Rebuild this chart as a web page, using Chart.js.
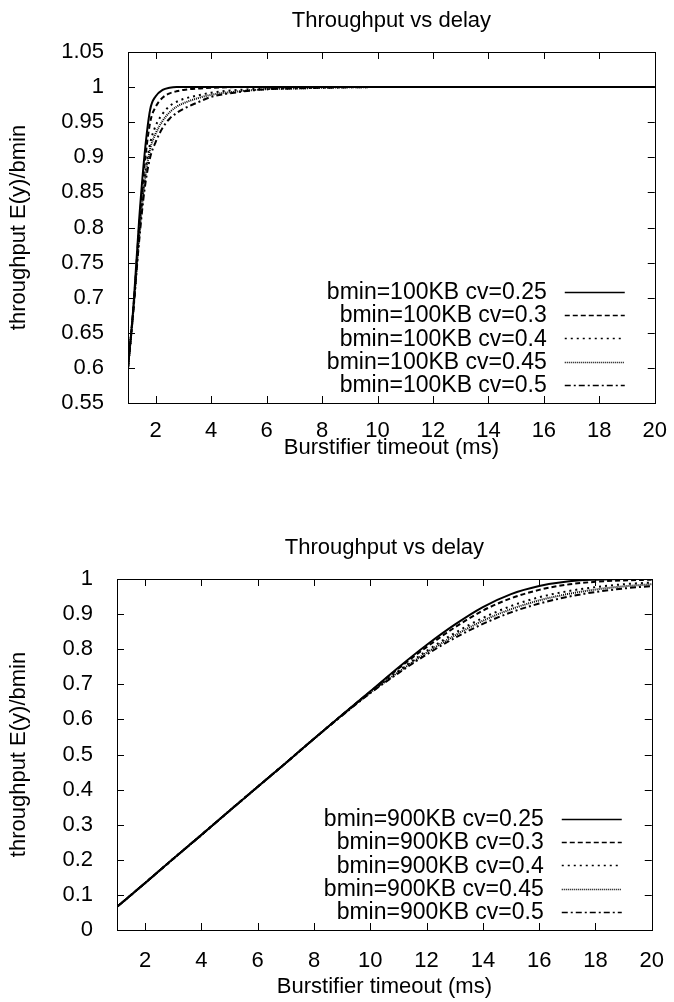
<!DOCTYPE html>
<html>
<head>
<meta charset="utf-8">
<script src="https://cdn.jsdelivr.net/npm/chart.js@4"></script>
<style>
  body { margin: 0; background: #fff; }
  .box { position: absolute; left: 0; width: 674px; height: 475px; }
  #boxTop { top: 0; }
  #boxBottom { top: 527px; }
</style>
</head>
<body>
<div class="box" id="boxTop"><canvas id="chartTop" width="674" height="475"></canvas></div>
<div class="box" id="boxBottom"><canvas id="chartBottom" width="674" height="475"></canvas></div>
<script>
// Données
const titleText = 'Throughput vs delay';
const xTitle = 'Burstifier timeout (ms)';
const yTitle = 'throughput E(y)/bmin';
const cvLabels = ['cv=0.25', 'cv=0.3', 'cv=0.4', 'cv=0.45', 'cv=0.5'];

const xTicks = [2, 4, 6, 8, 10, 12, 14, 16, 18, 20];
const yTicksTop = [0.55, 0.6, 0.65, 0.7, 0.75, 0.8, 0.85, 0.9, 0.95, 1, 1.05];
const yTicksBottom = [0, 0.1, 0.2, 0.3, 0.4, 0.5, 0.6, 0.7, 0.8, 0.9, 1];

// bmin = 100KB
const topX = [1, 1.2, 1.4, 1.6, 1.8, 2, 2.25, 2.5, 2.75, 3, 3.5, 4, 5, 6, 7, 8, 10, 12, 14, 16, 18, 20];
const top025 = [0.6, 0.69, 0.81, 0.905, 0.968, 0.987, 0.996, 0.999, 1, 1, 1, 1, 1, 1, 1, 1, 1, 1, 1, 1, 1, 1];
const top03 = [0.6, 0.688, 0.80, 0.89, 0.95, 0.972, 0.985, 0.991, 0.994, 0.996, 0.998, 0.999, 1, 1, 1, 1, 1, 1, 1, 1, 1, 1];
const top04 = [0.6, 0.686, 0.79, 0.872, 0.92, 0.945, 0.962, 0.973, 0.979, 0.983, 0.988, 0.992, 0.996, 0.998, 0.999, 1, 1, 1, 1, 1, 1, 1];
const top045 = [0.6, 0.685, 0.785, 0.865, 0.912, 0.934, 0.952, 0.964, 0.972, 0.977, 0.984, 0.989, 0.994, 0.997, 0.998, 0.999, 1, 1, 1, 1, 1, 1];
const top05 = [0.6, 0.684, 0.78, 0.855, 0.9, 0.922, 0.942, 0.955, 0.963, 0.969, 0.978, 0.986, 0.993, 0.997, 0.998, 0.999, 1, 1, 1, 1, 1, 1];

// bmin = 900KB
const bottomX = [1, 2, 3, 4, 5, 6, 7, 8, 9, 10, 11, 12, 13, 14, 15, 16, 17, 18, 19, 20];
const bot025 = [0.066, 0.134, 0.203, 0.271, 0.34, 0.408, 0.476, 0.545, 0.613, 0.68, 0.748, 0.812, 0.87, 0.92, 0.957, 0.98, 0.993, 0.998, 1, 1];
const bot03 = [0.066, 0.134, 0.203, 0.271, 0.34, 0.408, 0.476, 0.545, 0.613, 0.679, 0.745, 0.806, 0.862, 0.91, 0.945, 0.969, 0.984, 0.992, 0.996, 0.998];
const bot04 = [0.066, 0.134, 0.203, 0.271, 0.34, 0.408, 0.476, 0.545, 0.612, 0.677, 0.738, 0.795, 0.846, 0.889, 0.923, 0.948, 0.965, 0.977, 0.985, 0.99];
const bot045 = [0.066, 0.134, 0.203, 0.271, 0.34, 0.408, 0.476, 0.545, 0.612, 0.676, 0.735, 0.79, 0.839, 0.881, 0.914, 0.939, 0.957, 0.97, 0.979, 0.985];
const bot05 = [0.066, 0.134, 0.203, 0.271, 0.34, 0.408, 0.476, 0.545, 0.611, 0.675, 0.732, 0.785, 0.832, 0.872, 0.905, 0.93, 0.949, 0.963, 0.973, 0.98];

const dashes = [[], [5, 3], [2, 4], [1, 1], [6, 3, 2, 3]];
const FONT = "'Liberation Sans', Arial, sans-serif";

// Cadre et petites graduations vers l'intérieur (style gnuplot)
const framePlugin = {
  id: 'frame',
  afterDatasetsDraw(chart) {
    const { ctx, chartArea: a, scales } = chart;
    ctx.save();
    ctx.strokeStyle = '#000';
    ctx.lineWidth = 1;
    ctx.beginPath();
    scales.x.ticks.forEach(t => {
      const px = Math.round(scales.x.getPixelForValue(t.value)) + 0.5;
      ctx.moveTo(px, a.bottom); ctx.lineTo(px, a.bottom - 7);
      ctx.moveTo(px, a.top); ctx.lineTo(px, a.top + 7);
    });
    scales.y.ticks.forEach(t => {
      const py = Math.round(scales.y.getPixelForValue(t.value)) + 0.5;
      ctx.moveTo(a.left, py); ctx.lineTo(a.left + 7, py);
      ctx.moveTo(a.right, py); ctx.lineTo(a.right - 7, py);
    });
    ctx.stroke();
    ctx.strokeRect(Math.round(a.left) + 0.5, Math.round(a.top) + 0.5, Math.round(a.right - a.left), Math.round(a.bottom - a.top));
    ctx.restore();
  }
};

// Légende gnuplot : texte aligné à droite puis échantillon de trait
const keyPlugin = {
  id: 'gnuKey',
  afterDatasetsDraw(chart) {
    const { ctx, chartArea: a } = chart;
    const textRight = a.right - 108;
    const lineStart = a.right - 90;
    const lineEnd = a.right - 30;
    const rowStep = 23.3;
    const firstRow = a.bottom - 18 - 4 * rowStep;
    ctx.save();
    ctx.font = '23px ' + FONT;
    ctx.textAlign = 'right';
    ctx.textBaseline = 'middle';
    chart.data.datasets.forEach((ds, i) => {
      const y = firstRow + i * rowStep;
      ctx.fillStyle = '#000';
      ctx.fillText(ds.label, textRight, y + 1);
      ctx.strokeStyle = '#000';
      ctx.lineWidth = 1.5;
      ctx.setLineDash(ds.borderDash);
      ctx.beginPath();
      ctx.moveTo(lineStart, Math.round(y) + 0.5);
      ctx.lineTo(lineEnd, Math.round(y) + 0.5);
      ctx.stroke();
    });
    ctx.restore();
  }
};

function makeDatasets(prefix, xs, series) {
  return series.map((ys, i) => ({
    label: prefix + ' ' + cvLabels[i],
    data: xs.map((x, k) => ({ x: x, y: ys[k] })),
    borderColor: '#000',
    borderWidth: 2,
    borderDash: dashes[i],
    pointRadius: 0,
    fill: false,
    cubicInterpolationMode: 'monotone'
  }));
}

function makeChart(canvasId, datasets, yMin, yMax, yTicks, lay) {
  return new Chart(document.getElementById(canvasId), {
    type: 'line',
    data: { datasets: datasets },
    options: {
      responsive: false,
      animation: false,
      layout: { padding: { left: 0, right: 8, top: 0, bottom: 0 } },
      plugins: {
        legend: { display: false },
        tooltip: { enabled: false },
        title: {
          display: true,
          fullSize: false,
          text: titleText,
          color: '#000',
          font: { family: FONT, size: 22, weight: 'normal' },
          padding: { top: 8, bottom: 17.6 }
        }
      },
      scales: {
        x: {
          type: 'linear',
          min: 1,
          max: 20,
          grid: { display: false },
          border: { display: false },
          afterBuildTicks: s => { s.ticks = xTicks.map(v => ({ value: v })); },
          afterFit: s => { s.height = 72; },
          ticks: {
            color: '#000',
            padding: lay.xTickPad,
            maxRotation: 0,
            font: { family: FONT, size: 22 },
            callback: v => String(v)
          },
          title: {
            display: true,
            text: xTitle,
            color: '#000',
            font: { family: FONT, size: 22 },
            padding: { top: 0, bottom: lay.xTitlePad }
          }
        },
        y: {
          type: 'linear',
          min: yMin,
          max: yMax,
          grid: { display: false },
          border: { display: false },
          afterBuildTicks: s => { s.ticks = yTicks.map(v => ({ value: v })); },
          afterFit: s => { s.width = lay.yWidth; },
          ticks: {
            color: '#000',
            padding: 16,
            font: { family: FONT, size: 22 },
            callback: v => String(Number(v.toFixed(2)))
          },
          title: {
            display: true,
            text: yTitle,
            color: '#000',
            font: { family: FONT, size: 22 },
            padding: { top: 6, bottom: 0 }
          }
        }
      }
    },
    plugins: [framePlugin, keyPlugin]
  });
}

makeChart('chartTop',
  makeDatasets('bmin=100KB', topX, [top025, top03, top04, top045, top05]),
  0.55, 1.05, yTicksTop, { yWidth: 128, xTickPad: 7, xTitlePad: 14 });

makeChart('chartBottom',
  makeDatasets('bmin=900KB', bottomX, [bot025, bot03, bot04, bot045, bot05]),
  0, 1, yTicksBottom, { yWidth: 117, xTickPad: 10, xTitlePad: 2 });
</script>
</body>
</html>
